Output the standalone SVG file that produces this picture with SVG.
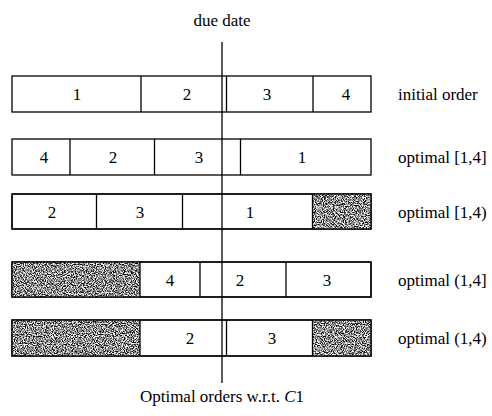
<svg xmlns="http://www.w3.org/2000/svg" width="492" height="416" viewBox="0 0 492 416">
<style>
  text { font-family: "Liberation Serif", "Times New Roman", serif; fill: #000; }
  .num { font-size: 17px; text-anchor: middle; }
  .lbl { font-size: 17px; }
  .bar { fill: #fff; stroke: #000; stroke-width: 1.3; }
  .div { stroke: #000; stroke-width: 1.3; fill: none; }
  .shade { fill: #000; filter: url(#speckle); }
  .edge { fill: none; stroke: #000; stroke-width: 1.3; }
</style>
<defs>
  <filter id="speckle" x="0" y="0" width="100%" height="100%" color-interpolation-filters="sRGB">
    <feTurbulence type="fractalNoise" baseFrequency="0.9" numOctaves="2" seed="7" result="n"/>
    <feColorMatrix in="n" type="matrix" values="1 0 0 0 0  1 0 0 0 0  1 0 0 0 0  0 0 0 0 1" result="g"/>
    <feComponentTransfer in="g" result="c">
      <feFuncR type="linear" slope="3" intercept="-0.95"/>
      <feFuncG type="linear" slope="3" intercept="-0.95"/>
      <feFuncB type="linear" slope="3" intercept="-0.95"/>
    </feComponentTransfer>
    <feComposite in="c" in2="SourceGraphic" operator="in"/>
  </filter>
</defs>

<rect width="492" height="416" fill="#fff"/>

<text class="lbl" x="222" y="26" text-anchor="middle" font-size="18">due date</text>

<g id="row1">
  <rect class="bar" x="12" y="76" width="359" height="36"/>
  <line class="div" x1="141" y1="76" x2="141" y2="112"/>
  <line class="div" x1="226.5" y1="76" x2="226.5" y2="112"/>
  <line class="div" x1="313" y1="76" x2="313" y2="112"/>
  <text class="num" x="77" y="100">1</text>
  <text class="num" x="187" y="100">2</text>
  <text class="num" x="267" y="100">3</text>
  <text class="num" x="346" y="100">4</text>
  <text class="lbl" x="398" y="100">initial order</text>
</g>

<g id="row2">
  <rect class="bar" x="12" y="139" width="359" height="36"/>
  <line class="div" x1="70" y1="139" x2="70" y2="175"/>
  <line class="div" x1="154.5" y1="139" x2="154.5" y2="175"/>
  <line class="div" x1="240.5" y1="139" x2="240.5" y2="175"/>
  <text class="num" x="44" y="163">4</text>
  <text class="num" x="113" y="163">2</text>
  <text class="num" x="199" y="163">3</text>
  <text class="num" x="302" y="163">1</text>
  <text class="lbl" x="398" y="163">optimal [1,4]</text>
</g>

<g id="row3">
  <rect class="bar" x="12" y="194" width="359" height="35"/>
  <rect class="shade" x="312.5" y="194" width="58.5" height="35"/>
  <rect class="edge" x="12" y="194" width="359" height="35"/>
  <line class="div" x1="96.5" y1="194" x2="96.5" y2="229"/>
  <line class="div" x1="182.5" y1="194" x2="182.5" y2="229"/>
  <line class="div" x1="312.5" y1="194" x2="312.5" y2="229"/>
  <text class="num" x="52" y="218">2</text>
  <text class="num" x="140" y="218">3</text>
  <text class="num" x="250" y="218">1</text>
  <text class="lbl" x="398" y="218">optimal [1,4)</text>
</g>

<g id="row4">
  <rect class="bar" x="12" y="262" width="359" height="35"/>
  <rect class="shade" x="12" y="262" width="128" height="35"/>
  <rect class="edge" x="12" y="262" width="359" height="35"/>
  <line class="div" x1="140" y1="262" x2="140" y2="297"/>
  <line class="div" x1="200" y1="262" x2="200" y2="297"/>
  <line class="div" x1="286" y1="262" x2="286" y2="297"/>
  <text class="num" x="170" y="286">4</text>
  <text class="num" x="240" y="286">2</text>
  <text class="num" x="327" y="286">3</text>
  <text class="lbl" x="398" y="286">optimal (1,4]</text>
</g>

<g id="row5">
  <rect class="bar" x="12" y="320" width="359" height="36"/>
  <rect class="shade" x="12" y="320" width="128" height="36"/>
  <rect class="shade" x="312.5" y="320" width="58.5" height="36"/>
  <rect class="edge" x="12" y="320" width="359" height="36"/>
  <line class="div" x1="140" y1="320" x2="140" y2="356"/>
  <line class="div" x1="226.5" y1="320" x2="226.5" y2="356"/>
  <line class="div" x1="312.5" y1="320" x2="312.5" y2="356"/>
  <text class="num" x="190" y="344">2</text>
  <text class="num" x="272" y="344">3</text>
  <text class="lbl" x="398" y="344">optimal (1,4)</text>
</g>

<g id="connectors">
  <line x1="222" y1="42" x2="222" y2="383" stroke="#000" stroke-width="1.3"/>
</g>

<text x="222" y="402" text-anchor="middle" font-size="17">Optimal orders w.r.t. <tspan font-style="italic">C</tspan>1</text>
</svg>
